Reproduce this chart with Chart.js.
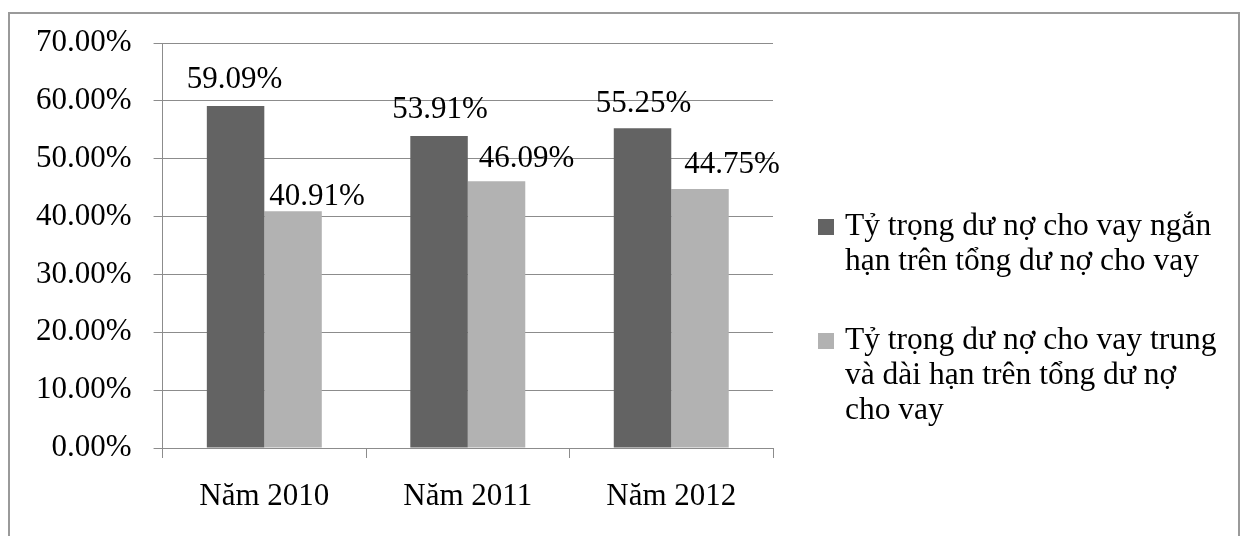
<!DOCTYPE html>
<html lang="vi">
<head>
<meta charset="utf-8">
<title>Tỷ trọng dư nợ cho vay</title>
<script src="https://cdn.jsdelivr.net/npm/chart.js@4.4.1/dist/chart.umd.min.js"></script>
<style>
  html, body { margin: 0; padding: 0; background: #ffffff; }
  #wrap { width: 1243px; height: 536px; position: relative; }
  canvas { display: block; }
</style>
</head>
<body>
<div id="wrap"><canvas id="chart" width="1243" height="536"></canvas></div>
<script>
// Years on the category axis
const categories = ['Năm 2010', 'Năm 2011', 'Năm 2012'];

// Share of short-term loans in total outstanding loans (%)
const shortTermShare = [59.09, 53.91, 55.25];
// Share of medium- and long-term loans in total outstanding loans (%)
const longTermShare = [40.91, 46.09, 44.75];

// Legend text, one entry per line
const shortTermLegend = ['Tỷ trọng dư nợ cho vay ngắn', 'hạn trên tổng dư nợ cho vay'];
const longTermLegend = ['Tỷ trọng dư nợ cho vay trung', 'và dài hạn trên tổng dư nợ', 'cho vay'];

// Y axis range and tick step (%)
const yMin = 0;
const yMax = 70;
const yStep = 10;

const FONT = '"Liberation Serif", "Times New Roman", serif';
const DARK = '#636363';
const LIGHT = '#b2b2b2';
const GRID = '#8c8c8c';

const fmtPct = v => v.toFixed(2) + '%';

// Outer frame around the whole figure
const framePlugin = {
  id: 'frame',
  beforeDraw(chart) {
    const ctx = chart.ctx;
    ctx.save();
    ctx.fillStyle = '#ffffff';
    ctx.fillRect(0, 0, chart.width, chart.height);
    ctx.strokeStyle = '#9a9a9a';
    ctx.lineWidth = 2;
    ctx.beginPath();
    ctx.moveTo(9, chart.height + 5);
    ctx.lineTo(9, 13);
    ctx.lineTo(1239, 13);
    ctx.lineTo(1239, chart.height + 5);
    ctx.stroke();
    ctx.restore();
  }
};

// Value labels above each bar
const valueLabelPlugin = {
  id: 'valueLabels',
  afterDatasetsDraw(chart, args, opts) {
    const ctx = chart.ctx;
    ctx.save();
    ctx.font = opts.fontSize + 'px ' + FONT;
    ctx.fillStyle = '#000000';
    ctx.textAlign = 'center';
    ctx.textBaseline = 'alphabetic';
    chart.data.datasets.forEach((ds, di) => {
      const meta = chart.getDatasetMeta(di);
      meta.data.forEach((bar, i) => {
        const off = opts.offsets[di][i];
        ctx.fillText(fmtPct(ds.data[i]), bar.x + off[0], bar.y + off[1]);
      });
    });
    ctx.restore();
  }
};

// Legend drawn to the right of the plot, with wrapped lines
const sideLegendPlugin = {
  id: 'sideLegend',
  afterDraw(chart, args, opts) {
    const ctx = chart.ctx;
    ctx.save();
    ctx.font = opts.fontSize + 'px ' + FONT;
    ctx.textAlign = 'left';
    ctx.textBaseline = 'middle';
    let y = opts.top;
    chart.data.datasets.forEach((ds) => {
      ctx.fillStyle = ds.backgroundColor;
      ctx.fillRect(opts.boxX, y - opts.boxSize / 2, opts.boxSize, opts.boxSize);
      ctx.fillStyle = '#000000';
      ds.legendLines.forEach((line, li) => {
        ctx.fillText(line, opts.textX, y + li * opts.lineHeight);
      });
      y += ds.legendLines.length * opts.lineHeight + opts.entryGap;
    });
    ctx.restore();
  }
};

new Chart(document.getElementById('chart'), {
  type: 'bar',
  data: {
    labels: categories,
    datasets: [
      {
        label: shortTermLegend.join(' '),
        legendLines: shortTermLegend,
        data: shortTermShare,
        backgroundColor: DARK,
        borderWidth: 0,
        barPercentage: 1.0,
        categoryPercentage: 0.565
      },
      {
        label: longTermLegend.join(' '),
        legendLines: longTermLegend,
        data: longTermShare,
        backgroundColor: LIGHT,
        borderWidth: 0,
        barPercentage: 1.0,
        categoryPercentage: 0.565
      }
    ]
  },
  options: {
    responsive: false,
    animation: false,
    devicePixelRatio: 1,
    layout: { padding: { left: 14, right: 470, top: 43, bottom: 1 } },
    scales: {
      x: {
        grid: {
          display: true,
          offset: true,
          drawOnChartArea: false,
          drawTicks: true,
          tickLength: 10,
          color: GRID,
          lineWidth: 1
        },
        border: { display: true, color: GRID, width: 1 },
        ticks: {
          color: '#000000',
          font: { family: FONT, size: 31, lineHeight: 1.0 },
          padding: 23,
          maxRotation: 0
        }
      },
      y: {
        min: yMin,
        max: yMax,
        grid: {
          color: GRID,
          lineWidth: 1,
          drawTicks: true,
          tickLength: 9
        },
        border: { display: true, color: GRID, width: 1 },
        ticks: {
          stepSize: yStep,
          color: '#000000',
          font: { family: FONT, size: 31 },
          padding: 22,
          callback: v => fmtPct(v)
        }
      }
    },
    plugins: {
      legend: { display: false },
      tooltip: { enabled: false },
      valueLabels: {
        fontSize: 31,
        offsets: [
          [[-1, -18], [1, -18], [1, -16]],
          [[24, -6], [30, -14], [32, -16]]
        ]
      },
      sideLegend: {
        fontSize: 31.5,
        boxX: 818,
        boxSize: 16,
        textX: 845,
        top: 227,
        lineHeight: 35,
        entryGap: 44
      }
    }
  },
  plugins: [framePlugin, valueLabelPlugin, sideLegendPlugin]
});
</script>
</body>
</html>
